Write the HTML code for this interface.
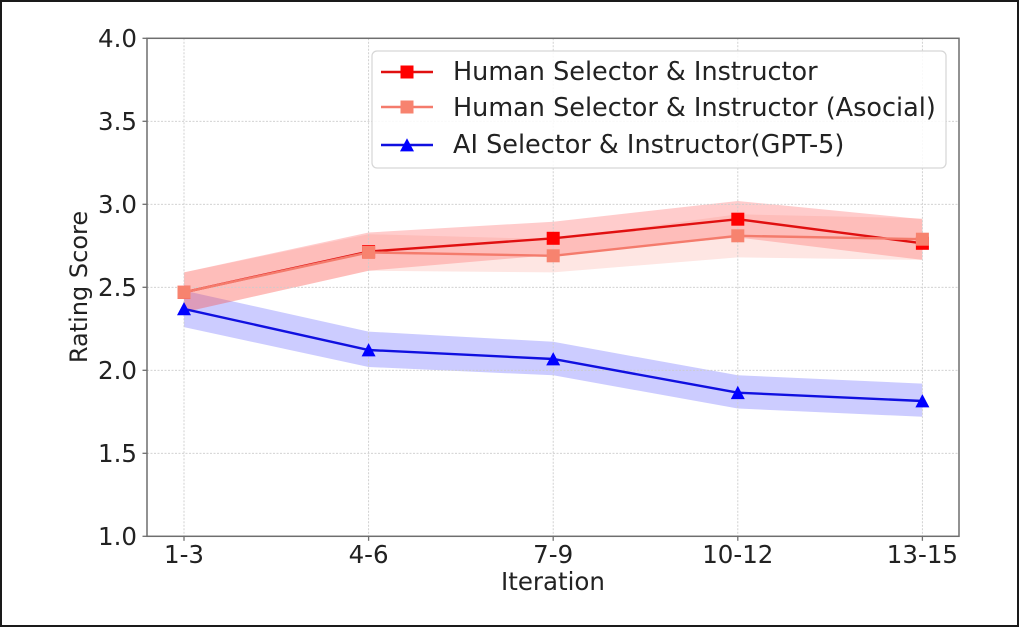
<!DOCTYPE html>
<html>
<head>
<meta charset="utf-8">
<style>
  html, body { margin: 0; padding: 0; background: #ffffff; }
  svg { display: block; }
  text { font-family: "DejaVu Sans", "Liberation Sans", sans-serif; fill: #222; }
</style>
</head>
<body>
<svg width="1020" height="628" viewBox="0 0 1020 628" xmlns="http://www.w3.org/2000/svg">
  <rect x="0" y="0" width="1020" height="628" fill="#ffffff"/>
  <!-- outer frame -->
  <rect x="1" y="1" width="1017" height="625" fill="none" stroke="#1a1a1a" stroke-width="2"/>

  <!-- bands -->
  <polygon fill="#0000ff" fill-opacity="0.2"
    points="184,290.6 368.6,331.6 553.2,341.8 737.8,375.3 922.4,383.6 922.4,416.8 737.8,408.5 553.2,375.3 368.6,367.0 184,327.1"/>
  <polygon fill="#ff0000" fill-opacity="0.2"
    points="184,272.4 368.6,232.5 553.2,221.7 737.8,201.0 922.4,219.2 922.4,259.9 737.8,237.5 553.2,254.9 368.6,270.7 184,312.2"/>
  <polygon fill="#fa8072" fill-opacity="0.2"
    points="184,272.4 368.6,234.2 553.2,239.2 737.8,214.3 922.4,218.4 922.4,259.9 737.8,257.4 553.2,272.4 368.6,270.7 184,312.2"/>

  <!-- grid -->
  <g stroke="#cccccc" stroke-width="0.9" stroke-dasharray="2,1.5">
    <line x1="147" y1="121.3" x2="959" y2="121.3"/>
    <line x1="147" y1="204.3" x2="959" y2="204.3"/>
    <line x1="147" y1="287.3" x2="959" y2="287.3"/>
    <line x1="147" y1="370.3" x2="959" y2="370.3"/>
    <line x1="147" y1="453.3" x2="959" y2="453.3"/>
    <line x1="184" y1="38.3" x2="184" y2="536.3"/>
    <line x1="368.6" y1="38.3" x2="368.6" y2="536.3"/>
    <line x1="553.2" y1="38.3" x2="553.2" y2="536.3"/>
    <line x1="737.8" y1="38.3" x2="737.8" y2="536.3"/>
    <line x1="922.4" y1="38.3" x2="922.4" y2="536.3"/>
  </g>

  <!-- red series -->
  <polyline fill="none" stroke="#e01010" stroke-width="2.4"
    points="184,292.3 368.6,251.6 553.2,238.3 737.8,219.2 922.4,243.3"/>
  <g fill="#ff0000">
    <rect x="177.5" y="285.8" width="13" height="13"/>
    <rect x="362.1" y="245.1" width="13" height="13"/>
    <rect x="546.7" y="231.8" width="13" height="13"/>
    <rect x="731.3" y="212.7" width="13" height="13"/>
    <rect x="915.9" y="236.8" width="13" height="13"/>
  </g>

  <!-- salmon series -->
  <polyline fill="none" stroke="#f47b6c" stroke-width="2.4"
    points="184,292.3 368.6,252.4 553.2,255.8 737.8,235.8 922.4,239.2"/>
  <g fill="#f7836f">
    <rect x="177.5" y="285.8" width="13" height="13"/>
    <rect x="362.1" y="245.9" width="13" height="13"/>
    <rect x="546.7" y="249.3" width="13" height="13"/>
    <rect x="731.3" y="229.3" width="13" height="13"/>
    <rect x="915.9" y="232.7" width="13" height="13"/>
  </g>

  <!-- blue series -->
  <polyline fill="none" stroke="#1010e0" stroke-width="2.4"
    points="184,308.9 368.6,350.0 553.2,359.0 737.8,392.7 922.4,401.0"/>
  <g fill="#0000ff">
    <polygon points="184,302.0 177.0,315.3 191.0,315.3"/>
    <polygon points="368.6,343.1 361.6,356.4 375.6,356.4"/>
    <polygon points="553.2,352.1 546.2,365.4 560.2,365.4"/>
    <polygon points="737.8,385.8 730.8,399.1 744.8,399.1"/>
    <polygon points="922.4,394.1 915.4,407.4 929.4,407.4"/>
  </g>

  <!-- spines -->
  <rect x="147" y="38.3" width="812" height="498" fill="none" stroke="#6e6e6e" stroke-width="1.5"/>

  <!-- ticks -->
  <g stroke="#6e6e6e" stroke-width="1.3">
    <line x1="142.5" y1="38.3" x2="147" y2="38.3"/>
    <line x1="142.5" y1="121.3" x2="147" y2="121.3"/>
    <line x1="142.5" y1="204.3" x2="147" y2="204.3"/>
    <line x1="142.5" y1="287.3" x2="147" y2="287.3"/>
    <line x1="142.5" y1="370.3" x2="147" y2="370.3"/>
    <line x1="142.5" y1="453.3" x2="147" y2="453.3"/>
    <line x1="142.5" y1="536.3" x2="147" y2="536.3"/>
    <line x1="184" y1="536.3" x2="184" y2="540.8"/>
    <line x1="368.6" y1="536.3" x2="368.6" y2="540.8"/>
    <line x1="553.2" y1="536.3" x2="553.2" y2="540.8"/>
    <line x1="737.8" y1="536.3" x2="737.8" y2="540.8"/>
    <line x1="922.4" y1="536.3" x2="922.4" y2="540.8"/>
  </g>

  <!-- y tick labels -->
  <g font-size="24.5" text-anchor="end">
    <text x="137" y="47.2">4.0</text>
    <text x="137" y="130.2">3.5</text>
    <text x="137" y="213.2">3.0</text>
    <text x="137" y="296.2">2.5</text>
    <text x="137" y="379.2">2.0</text>
    <text x="137" y="462.2">1.5</text>
    <text x="137" y="545.2">1.0</text>
  </g>

  <!-- x tick labels -->
  <g font-size="24.5" text-anchor="middle">
    <text x="184" y="563">1-3</text>
    <text x="368.6" y="563">4-6</text>
    <text x="553.2" y="563">7-9</text>
    <text x="737.8" y="563">10-12</text>
    <text x="922.4" y="563">13-15</text>
  </g>

  <!-- axis labels -->
  <text x="553" y="590" font-size="24.5" text-anchor="middle">Iteration</text>
  <text transform="translate(87,287) rotate(-90)" font-size="24" text-anchor="middle">Rating Score</text>

  <!-- legend -->
  <rect x="372" y="51" width="574" height="117" rx="5" ry="5" fill="#ffffff" fill-opacity="0.85" stroke="#d6d6d6" stroke-width="1.2"/>
  <line x1="381" y1="72" x2="433" y2="72" stroke="#e01010" stroke-width="2.4"/>
  <rect x="400.5" y="65.5" width="13" height="13" fill="#ff0000"/>
  <line x1="381" y1="107" x2="433" y2="107" stroke="#f47b6c" stroke-width="2.4"/>
  <rect x="400.5" y="100.5" width="13" height="13" fill="#f7836f"/>
  <line x1="381" y1="145" x2="433" y2="145" stroke="#1010e0" stroke-width="2.4"/>
  <polygon points="407,138.2 400,151.4 414,151.4" fill="#0000ff"/>
  <g font-size="25.5">
    <text x="453" y="80">Human Selector &amp; Instructor</text>
    <text x="453" y="116">Human Selector &amp; Instructor (Asocial)</text>
    <text x="453" y="153">AI Selector &amp; Instructor(GPT-5)</text>
  </g>
</svg>
</body>
</html>
